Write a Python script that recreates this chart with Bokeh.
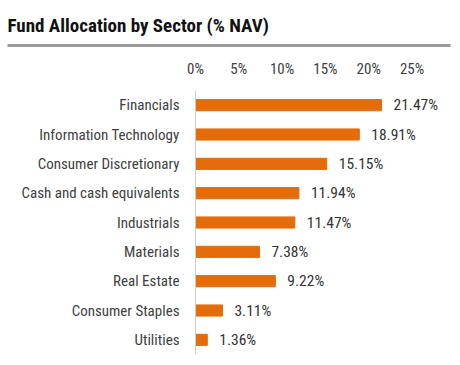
from bokeh.plotting import figure
from bokeh.models import Range1d, FactorRange, FixedTicker, ColumnDataSource, LinearAxis, Span
from bokeh.core.properties import value
from bokeh.embed import file_html
from bokeh.resources import INLINE

title_text = "Fund Allocation by Sector (% NAV)"
sectors = ["Financials", "Information Technology", "Consumer Discretionary",
           "Cash and cash equivalents", "Industrials", "Materials", "Real Estate",
           "Consumer Staples", "Utilities"]
weights = [21.47, 18.91, 15.15, 11.94, 11.47, 7.38, 9.22, 3.11, 1.36]
tick_values = [0, 5, 10, 15, 20, 25]
tick_labels = ["0%", "5%", "10%", "15%", "20%", "25%"]

FONT = "'Roboto Condensed', 'DejaVu Sans Condensed', 'Liberation Sans Narrow', 'Arial Narrow', Roboto, sans-serif"
BAR = "#E46C0A"
TXT = "#404040"

src = ColumnDataSource(dict(sector=sectors, weight=weights,
                            label=[f"{w:.2f}%" for w in weights]))

p = figure(width=460, height=365, y_range=FactorRange(*reversed(sectors)),
           x_range=Range1d(-22.51, 29.436), x_axis_location="above",
           output_backend="svg", toolbar_location=None,
           min_border_left=0, min_border_right=10, min_border_top=90, min_border_bottom=11)
p.y_range.range_padding = 0
p.yaxis.visible = False
p.grid.visible = False
p.outline_line_color = None

p.title.text = title_text
p.title.align = "left"
p.title.offset = 7
p.title.vertical_align = "middle"
p.title.text_font = FONT
p.title.text_font_style = "bold"
p.title.text_font_size = "19px"
p.title.text_color = "#111111"
p.title.standoff = 16

# bars
p.hbar(y="sector", right="weight", left=0, height=0.38, color=BAR, source=src)
# value labels
p.text(x="weight", y="sector", text="label", source=src, x_offset=12,
       text_font=value(FONT), text_font_size="15.5px", text_color="#333333",
       text_baseline="middle", text_align="left")
# category labels
p.text(x=0, y="sector", text="sector", source=src, x_offset=-16,
       text_font=value(FONT), text_font_size="15px", text_color=TXT,
       text_baseline="middle", text_align="right")
# vertical axis line at 0
p.add_layout(Span(location=0, dimension="height", line_color="#cccccc", line_width=1))

# tick axis on top
xa = p.xaxis[0]
xa.ticker = FixedTicker(ticks=tick_values)
xa.major_label_overrides = {t: l for t, l in zip(tick_values, tick_labels)}
xa.axis_line_color = None
xa.major_tick_line_color = None
xa.minor_tick_line_color = None
xa.major_tick_out = 0
xa.major_tick_in = 0
xa.minor_tick_out = 0
xa.major_label_standoff = 13
xa.major_label_text_font = FONT
xa.major_label_text_font_size = "15px"
xa.major_label_text_color = TXT

# spacer between tick labels and rule: white (invisible) ticks, empty labels
spacer = LinearAxis(ticker=FixedTicker(ticks=tick_values), axis_line_color=None,
                    major_tick_line_color="white", minor_tick_line_color=None,
                    major_tick_out=11, minor_tick_out=0, major_tick_in=0,
                    major_label_overrides={t: "" for t in tick_values},
                    major_label_standoff=0, major_label_text_font_size="1px")
p.add_layout(spacer, "above")

# grey rule under the title
rule = LinearAxis(ticker=FixedTicker(ticks=[]), axis_line_color="#9a9a9a", axis_line_width=3,
                  major_tick_line_color=None, minor_tick_line_color=None,
                  major_tick_out=0, minor_tick_out=0, major_tick_in=0,
                  bounds=(-21.70, 29.436))
p.add_layout(rule, "above")

open("out.html", "w").write(file_html(p, INLINE))
